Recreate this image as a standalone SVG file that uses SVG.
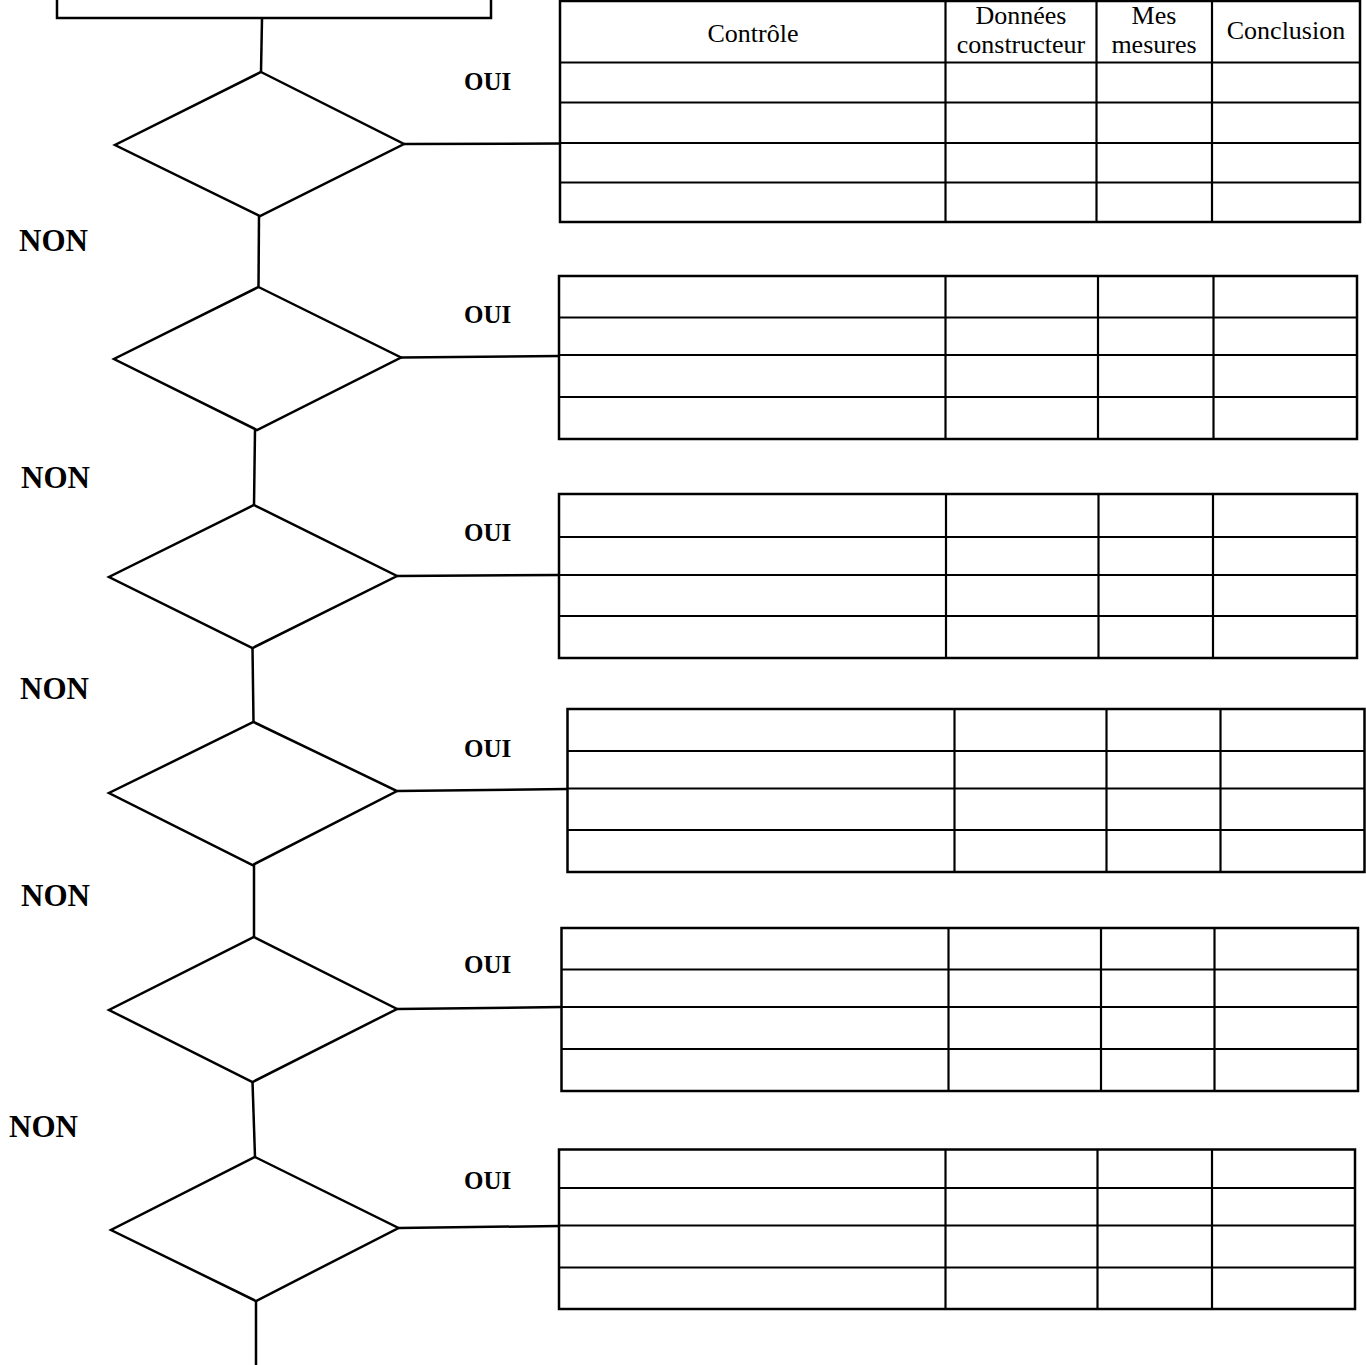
<svg xmlns="http://www.w3.org/2000/svg" width="1366" height="1365" viewBox="0 0 1366 1365">
<style>
.s{fill:none;stroke:#000;stroke-width:2.5}
.d{fill:#fff;stroke:#000;stroke-width:2.5;stroke-linejoin:miter}
.t{fill:#fff;stroke:#000;stroke-width:2.5}
.g{stroke:#000;stroke-width:2.2}
.lb{font-family:"Liberation Serif","DejaVu Serif","Times New Roman",serif;font-weight:bold;fill:#000}
.oui{font-size:25px}
.non{font-size:31px}
.h{font-family:"Liberation Serif","DejaVu Serif","Times New Roman",serif;font-size:26px;fill:#000;text-anchor:middle}
</style>
<rect width="1366" height="1365" fill="#fff"/>
<g id="connectors">
<line class="s" x1="262" y1="19" x2="261" y2="72"/>
<line class="s" x1="259" y1="216" x2="258.5" y2="287"/>
<line class="s" x1="255" y1="430" x2="254" y2="505"/>
<line class="s" x1="252.5" y1="648" x2="253.5" y2="722"/>
<line class="s" x1="254" y1="865" x2="254" y2="937"/>
<line class="s" x1="252.5" y1="1082" x2="255" y2="1157"/>
<line class="s" x1="256" y1="1301" x2="256" y2="1365"/>
<line class="s" x1="404" y1="144" x2="560" y2="143.5"/>
<line class="s" x1="401" y1="357.5" x2="559" y2="356"/>
<line class="s" x1="397" y1="576" x2="559" y2="575"/>
<line class="s" x1="397" y1="791" x2="567" y2="789"/>
<line class="s" x1="397" y1="1009" x2="562" y2="1007"/>
<line class="s" x1="398.5" y1="1228" x2="559" y2="1226"/>
</g>
<g id="start">
<rect class="t" x="57" y="-5" width="434" height="23"/>
</g>
<g id="decision1"><polygon class="d" points="261,72 404,144 260,216 115,145"/></g>
<g id="decision2"><polygon class="d" points="258.5,287 401,357.5 257,430 114,359"/></g>
<g id="decision3"><polygon class="d" points="254,505 397,576 252.5,648 109,577"/></g>
<g id="decision4"><polygon class="d" points="253.5,722 397,791 252.5,865 109,793"/></g>
<g id="decision5"><polygon class="d" points="254,937 397,1009 252.5,1082 109,1010"/></g>
<g id="decision6"><polygon class="d" points="255,1157 398.5,1228 256,1301 111,1230"/></g>
<g id="labels">
<text class="lb oui" x="464" y="90">OUI</text>
<text class="lb oui" x="464" y="323">OUI</text>
<text class="lb oui" x="464" y="541">OUI</text>
<text class="lb oui" x="464" y="757">OUI</text>
<text class="lb oui" x="464" y="973">OUI</text>
<text class="lb oui" x="464" y="1189">OUI</text>
<text class="lb non" x="19" y="251">NON</text>
<text class="lb non" x="21" y="488">NON</text>
<text class="lb non" x="20" y="699">NON</text>
<text class="lb non" x="21" y="906">NON</text>
<text class="lb non" x="9" y="1137">NON</text>
</g>
<g id="table1">
<rect class="t" x="560" y="1" width="800" height="221"/>
<line class="g" x1="560" y1="62.5" x2="1360" y2="62.5"/>
<line class="g" x1="560" y1="102.5" x2="1360" y2="102.5"/>
<line class="g" x1="560" y1="143" x2="1360" y2="143"/>
<line class="g" x1="560" y1="182.5" x2="1360" y2="182.5"/>
<line class="g" x1="945.5" y1="1" x2="945.5" y2="222"/>
<line class="g" x1="1096.5" y1="1" x2="1096.5" y2="222"/>
<line class="g" x1="1212" y1="1" x2="1212" y2="222"/>
<text class="h" x="753" y="42">Contrôle</text>
<text class="h" x="1021" y="24">Données</text>
<text class="h" x="1021" y="53">constructeur</text>
<text class="h" x="1154" y="24">Mes</text>
<text class="h" x="1154" y="53">mesures</text>
<text class="h" x="1286" y="39">Conclusion</text>
</g>
<g id="table2">
<rect class="t" x="559" y="276" width="798" height="163"/>
<line class="g" x1="559" y1="317.5" x2="1357" y2="317.5"/>
<line class="g" x1="559" y1="355" x2="1357" y2="355"/>
<line class="g" x1="559" y1="397" x2="1357" y2="397"/>
<line class="g" x1="945.5" y1="276" x2="945.5" y2="439"/>
<line class="g" x1="1098" y1="276" x2="1098" y2="439"/>
<line class="g" x1="1213.5" y1="276" x2="1213.5" y2="439"/>
</g>
<g id="table3">
<rect class="t" x="559" y="494" width="798" height="164"/>
<line class="g" x1="559" y1="537" x2="1357" y2="537"/>
<line class="g" x1="559" y1="575" x2="1357" y2="575"/>
<line class="g" x1="559" y1="616" x2="1357" y2="616"/>
<line class="g" x1="946" y1="494" x2="946" y2="658"/>
<line class="g" x1="1098.5" y1="494" x2="1098.5" y2="658"/>
<line class="g" x1="1213" y1="494" x2="1213" y2="658"/>
</g>
<g id="table4">
<rect class="t" x="567.5" y="709" width="797" height="163"/>
<line class="g" x1="567.5" y1="751" x2="1364.5" y2="751"/>
<line class="g" x1="567.5" y1="788.5" x2="1364.5" y2="788.5"/>
<line class="g" x1="567.5" y1="830" x2="1364.5" y2="830"/>
<line class="g" x1="954.5" y1="709" x2="954.5" y2="872"/>
<line class="g" x1="1106.5" y1="709" x2="1106.5" y2="872"/>
<line class="g" x1="1220.5" y1="709" x2="1220.5" y2="872"/>
</g>
<g id="table5">
<rect class="t" x="561.5" y="928" width="796.5" height="163"/>
<line class="g" x1="561.5" y1="969.5" x2="1358" y2="969.5"/>
<line class="g" x1="561.5" y1="1007" x2="1358" y2="1007"/>
<line class="g" x1="561.5" y1="1049" x2="1358" y2="1049"/>
<line class="g" x1="948.5" y1="928" x2="948.5" y2="1091"/>
<line class="g" x1="1101" y1="928" x2="1101" y2="1091"/>
<line class="g" x1="1214.5" y1="928" x2="1214.5" y2="1091"/>
</g>
<g id="table6">
<rect class="t" x="559" y="1149.5" width="796" height="159.5"/>
<line class="g" x1="559" y1="1188" x2="1355" y2="1188"/>
<line class="g" x1="559" y1="1225.5" x2="1355" y2="1225.5"/>
<line class="g" x1="559" y1="1267.5" x2="1355" y2="1267.5"/>
<line class="g" x1="945.5" y1="1149.5" x2="945.5" y2="1309"/>
<line class="g" x1="1097.5" y1="1149.5" x2="1097.5" y2="1309"/>
<line class="g" x1="1212" y1="1149.5" x2="1212" y2="1309"/>
</g>
</svg>
